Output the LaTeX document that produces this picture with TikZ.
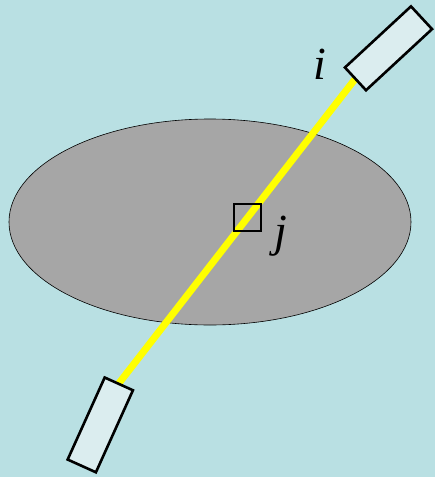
\documentclass[tikz,border=0pt]{standalone}
\usepackage{fontspec}
\setmainfont{Liberation Serif}
\usetikzlibrary{backgrounds}
\definecolor{bgc}{HTML}{B9E0E3}
\definecolor{boxfill}{HTML}{DBEDEF}
\definecolor{ellgray}{HTML}{A6A6A6}
\definecolor{beam}{HTML}{FFFF00}
\tikzset{
  detector/.style={draw=black, fill=boxfill, line width=2.6pt, rectangle, inner sep=0pt, minimum width=90pt, minimum height=31pt, line join=miter},
  voxel/.style={draw=black, line width=2pt, rectangle, inner sep=0pt, minimum size=27pt},
  lbl/.style={font=\fontsize{46pt}{46pt}\selectfont\itshape, inner sep=0pt, anchor=base}
}
\begin{document}
\begin{tikzpicture}[x=1pt,y=-1pt]
\useasboundingbox (0,0) rectangle (435,477);
\node[detector, rotate=42.8] (top) at (388.5,48.3) {};
\node[detector, rotate=65.7] (bot) at (100.3,424.9) {};
\node[voxel] (vox) at (247.5,217.5) {};
\node[lbl] (li) at (319.5,79) {i};
\node[lbl] (lj) at (281,246) {j};
\begin{pgfonlayer}{background}
\fill[bgc] (0,0) rectangle (435,477);
\filldraw[fill=ellgray, draw=black, line width=0.6pt] (210,222) ellipse [x radius=201, y radius=103];
\draw[beam, line width=7pt, shorten <=-3pt, shorten >=-3pt] (top.west) -- (bot.east);
\end{pgfonlayer}
\end{tikzpicture}
\end{document}
